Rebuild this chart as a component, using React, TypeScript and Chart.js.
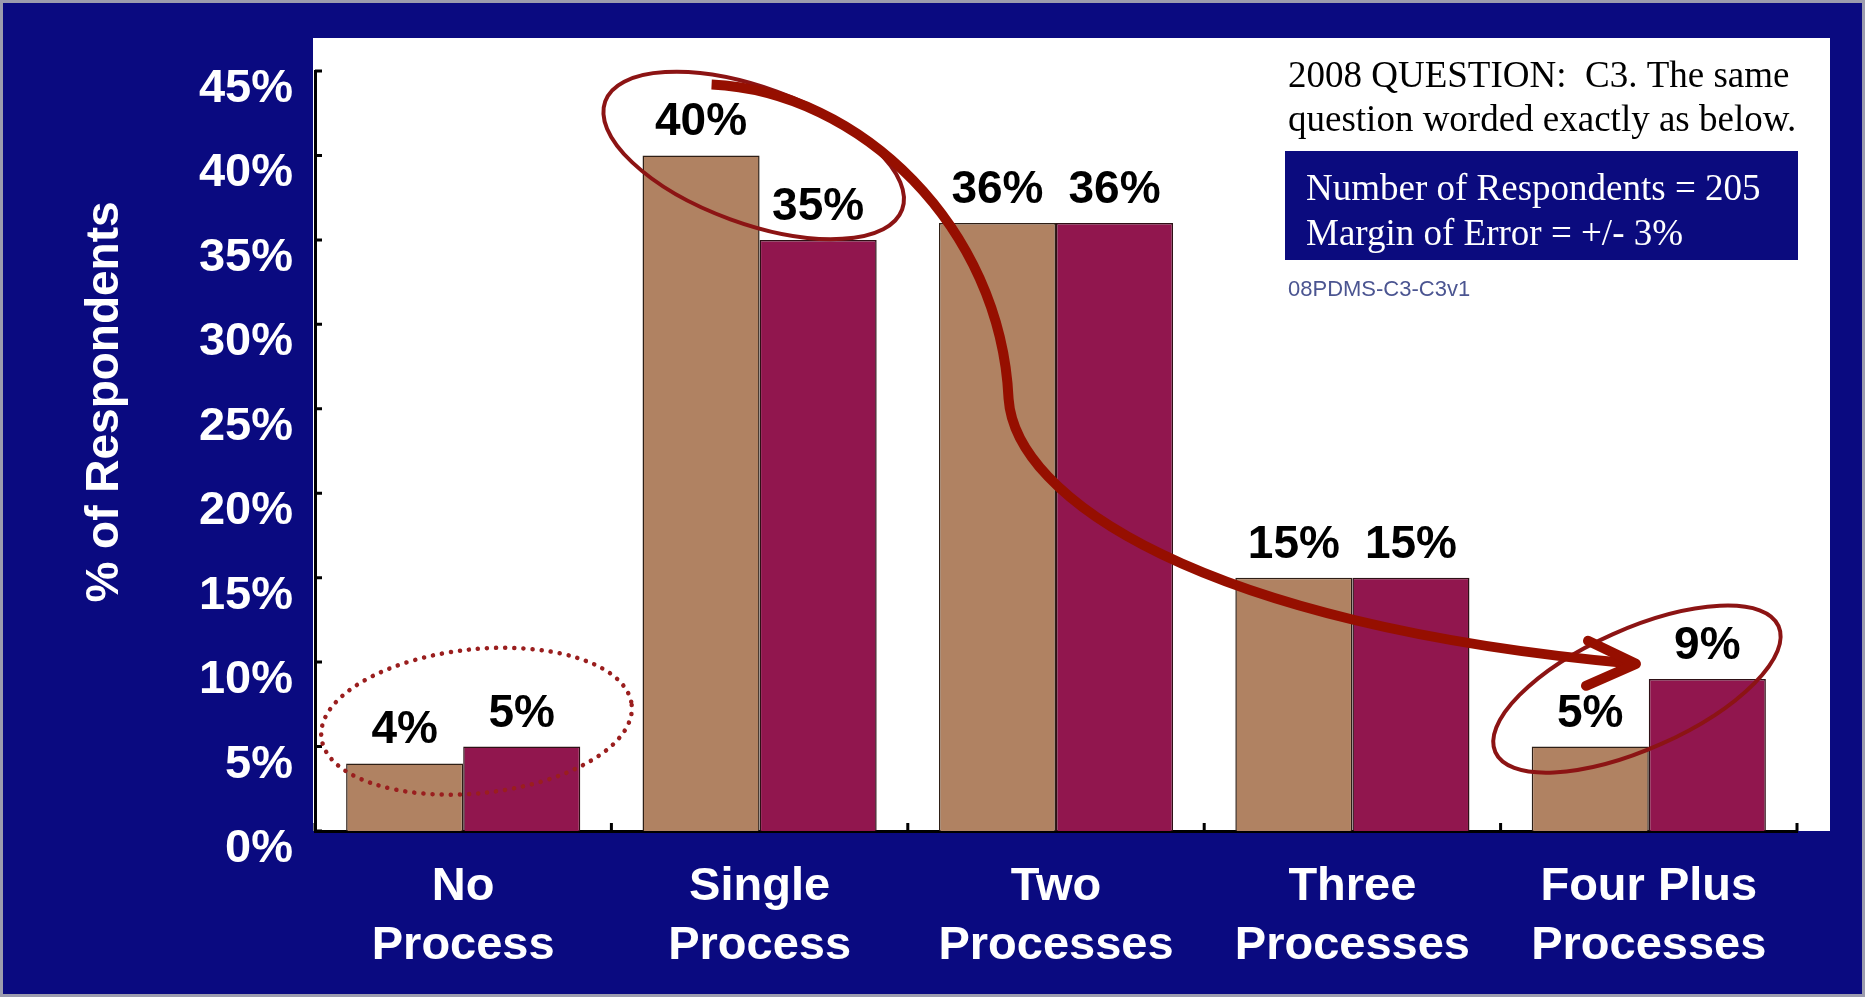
import { useEffect, useRef } from "react";
import { Chart, registerables } from "chart.js";

Chart.register(...registerables);

// ---- data ----
const categories: string[][] = [
  ["No", "Process"],
  ["Single", "Process"],
  ["Two", "Processes"],
  ["Three", "Processes"],
  ["Four Plus", "Processes"],
];
const priorValues = [4, 40, 36, 15, 5];
const year2008Values = [5, 35, 36, 15, 9];
const axisMax = 45;
const axisStep = 5;

const yTitle = "% of Respondents";
const noteLines = ["2008 QUESTION:  C3. The same", "question worded exactly as below."];
const boxLines = ["Number of Respondents = 205", "Margin of Error = +/- 3%"];
const codeLabel = "08PDMS-C3-C3v1";

// ---- styling ----
const NAVY = "#0a0a80";
const BROWN = "#b08262";
const MAROON = "#91164e";
const RED = "#960f00";
const SANS = "'Liberation Sans', Arial, Helvetica, sans-serif";
const SERIF = "'Liberation Serif', 'Times New Roman', serif";

const backdrop = {
  id: "backdrop",
  beforeDraw(chart: any) {
    const { ctx, width, height, chartArea } = chart;
    ctx.save();
    ctx.fillStyle = NAVY;
    ctx.fillRect(0, 0, width, height);
    // white plot panel
    ctx.fillStyle = "#ffffff";
    ctx.fillRect(
      chartArea.left - 2,
      chartArea.top - 33,
      chartArea.right + 35 - chartArea.left,
      chartArea.bottom - chartArea.top + 33
    );
    // thin frame around the slide
    ctx.strokeStyle = "#9c9cae";
    ctx.lineWidth = 3;
    ctx.strokeRect(1.5, 1.5, width - 3, height - 3);
    ctx.restore();
  },
};

const innerTicks = {
  id: "innerTicks",
  afterDatasetsDraw(chart: any) {
    const { ctx, chartArea } = chart;
    const xs = chart.scales.x;
    const ys = chart.scales.y;
    ctx.save();
    ctx.strokeStyle = "#000";
    ctx.lineWidth = 3;
    ctx.beginPath();
    ys.ticks.forEach((_t: any, i: number) => {
      const py = ys.getPixelForTick(i);
      ctx.moveTo(chartArea.left, py);
      ctx.lineTo(chartArea.left + 7, py);
    });
    for (let i = 0; i <= categories.length; i++) {
      const px = xs.getPixelForValue(i - 0.5);
      ctx.moveTo(px, chartArea.bottom);
      ctx.lineTo(px, chartArea.bottom - 8);
    }
    ctx.stroke();
    ctx.restore();
  },
};

const valueLabels = {
  id: "valueLabels",
  afterDatasetsDraw(chart: any) {
    const { ctx } = chart;
    ctx.save();
    ctx.fillStyle = "#000";
    ctx.font = `bold 46px ${SANS}`;
    ctx.textAlign = "center";
    ctx.textBaseline = "alphabetic";
    chart.data.datasets.forEach((ds: any, di: number) => {
      const meta = chart.getDatasetMeta(di);
      meta.data.forEach((bar: any, i: number) => {
        ctx.fillText(`${ds.data[i]}%`, bar.x, bar.y - 20);
      });
    });
    ctx.restore();
  },
};

function ellipse(ctx: any, cx: number, cy: number, rx: number, ry: number, deg: number) {
  ctx.beginPath();
  ctx.ellipse(cx, cy, rx, ry, (deg * Math.PI) / 180, 0, Math.PI * 2);
  ctx.stroke();
}

const callouts = {
  id: "callouts",
  afterDraw(chart: any) {
    const { ctx } = chart;
    const xs = chart.scales.x;
    const ys = chart.scales.y;
    const P = (ci: number, v: number): [number, number] => [xs.getPixelForValue(ci), ys.getPixelForValue(v)];

    ctx.save();

    // axis title
    ctx.save();
    ctx.translate(105, 402);
    ctx.rotate(-Math.PI / 2);
    ctx.fillStyle = "#fff";
    ctx.font = `bold 46px ${SANS}`;
    ctx.textAlign = "center";
    ctx.textBaseline = "middle";
    ctx.fillText(yTitle, 0, 0);
    ctx.restore();

    // rings around the highlighted groups
    ctx.strokeStyle = "#8c1414";
    ctx.lineWidth = 4;
    let c = P(0.98, 40);
    ellipse(ctx, c[0], c[1], 158, 68, 20);
    c = P(3.96, 8.4);
    ellipse(ctx, c[0], c[1], 155, 60, -24);

    ctx.save();
    ctx.strokeStyle = "#9a1e1e";
    ctx.lineWidth = 4.5;
    ctx.lineCap = "round";
    ctx.setLineDash([0.1, 9]);
    c = P(0.045, 6.5);
    ellipse(ctx, c[0], c[1], 156, 72, -6);
    ctx.restore();

    // sweeping arrow from the single-process group to four-plus
    const a0 = P(0.838, 44.2);
    const a1 = P(1.341, 43.8);
    const a2 = P(1.813, 35.7);
    const a3 = P(1.84, 25.6);
    const a4 = P(1.863, 19.7);
    const a5 = P(2.487, 12.2);
    const a6 = P(3.95, 9.9);
    ctx.strokeStyle = RED;
    ctx.lineWidth = 10;
    ctx.lineCap = "butt";
    ctx.lineJoin = "round";
    ctx.beginPath();
    ctx.moveTo(a0[0], a0[1]);
    ctx.bezierCurveTo(a1[0], a1[1], a2[0], a2[1], a3[0], a3[1]);
    ctx.bezierCurveTo(a4[0], a4[1], a5[0], a5[1], a6[0], a6[1]);
    ctx.stroke();
    ctx.beginPath();
    ctx.lineCap = "round";
    ctx.moveTo(a6[0] - 46, a6[1] - 23);
    ctx.lineTo(a6[0] + 2, a6[1]);
    ctx.lineTo(a6[0] - 48, a6[1] + 22);
    ctx.stroke();

    // question note
    ctx.fillStyle = "#000";
    ctx.font = `37px ${SERIF}`;
    ctx.textAlign = "left";
    ctx.textBaseline = "alphabetic";
    ctx.fillText(noteLines[0], 1288, 87);
    ctx.fillText(noteLines[1], 1288, 131);

    // respondents box
    ctx.fillStyle = "#0b0b7e";
    ctx.fillRect(1285, 151, 513, 109);
    ctx.fillStyle = "#fff";
    ctx.fillText(boxLines[0], 1306, 200);
    ctx.fillText(boxLines[1], 1306, 245);

    ctx.fillStyle = "#4b5591";
    ctx.font = `22px ${SANS}`;
    ctx.fillText(codeLabel, 1288, 296);

    ctx.restore();
  },
};

export default function App() {
  const canvasRef = useRef<HTMLCanvasElement | null>(null);

  useEffect(() => {
    const canvas = canvasRef.current;
    if (!canvas) return;
    const chart = new Chart(canvas, {
      type: "bar",
      data: {
        labels: categories,
        datasets: [
          {
            label: "Prior",
            data: priorValues,
            backgroundColor: BROWN,
            borderColor: "#2e1f16",
            borderWidth: 1.5,
            categoryPercentage: 0.79,
            barPercentage: 1.0,
          },
          {
            label: "2008",
            data: year2008Values,
            backgroundColor: MAROON,
            borderColor: "#2e1016",
            borderWidth: 1.5,
            categoryPercentage: 0.79,
            barPercentage: 1.0,
          },
        ],
      },
      options: {
        responsive: false,
        devicePixelRatio: 1,
        animation: false,
        layout: { padding: { top: 71, right: 68, left: 0, bottom: 0 } },
        plugins: {
          legend: { display: false },
          tooltip: { enabled: false },
        },
        scales: {
          x: {
            grid: { display: false, drawTicks: false },
            border: { display: true, color: "#000", width: 3 },
            ticks: {
              color: "#fff",
              font: { family: SANS, weight: "bold", size: 47, lineHeight: 1.26 },
              padding: 26,
              autoSkip: false,
              maxRotation: 0,
              minRotation: 0,
            },
            afterFit: (s: any) => {
              s.height = 166;
            },
          },
          y: {
            min: 0,
            max: axisMax,
            grid: { display: false, drawTicks: false },
            border: { display: true, color: "#000", width: 3 },
            ticks: {
              stepSize: axisStep,
              color: "#fff",
              font: { family: SANS, weight: "bold", size: 47 },
              padding: 22,
              labelOffset: 18,
              callback: (v: any) => `${v}%`,
            },
            afterFit: (s: any) => {
              s.width = 315;
            },
          },
        },
      },
      plugins: [backdrop, innerTicks, valueLabels, callouts],
    } as any);
    return () => chart.destroy();
  }, []);

  return (
    <div style={{ position: "fixed", left: 0, top: 0, width: 1865, height: 997 }}>
      <canvas ref={canvasRef} width={1865} height={997} style={{ display: "block" }} />
    </div>
  );
}
